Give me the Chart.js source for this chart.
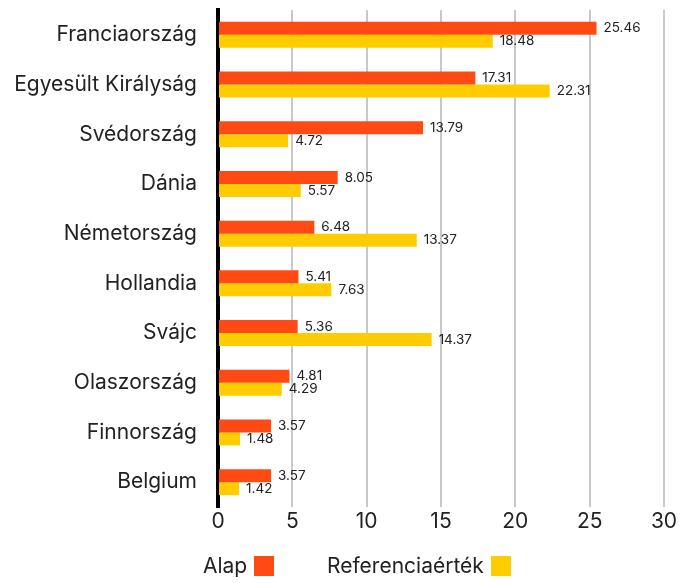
<!DOCTYPE html>
<html>
<head>
<meta charset="utf-8">
<script src="https://cdn.jsdelivr.net/npm/chart.js@4"></script>
<style>
  body { margin: 0; background: #fff; }
  #wrap { position: relative; width: 691px; height: 583px; }
  #legend {
    position: absolute; top: 553px; left: 0; width: 691px;
    font-family: Inter, sans-serif; font-size: 21px; color: #222;
  }
  .item { position: absolute; display: flex; align-items: center; }
  .box { display: inline-block; width: 20px; height: 20px; margin-left: 7px; }
</style>
</head>
<body>
<div id="wrap">
  <canvas id="myBarChart" width="691" height="583"></canvas>
  <div id="legend">
    <span class="item" style="left:203px">Alap<span class="box" style="background:#FF4A14"></span></span>
    <span class="item" style="left:327px">Referenciaérték<span class="box" style="background:#FFCC00"></span></span>
  </div>
</div>
<script>
// Categories and values
const countries = [
  "Franciaország",
  "Egyesült Királyság",
  "Svédország",
  "Dánia",
  "Németország",
  "Hollandia",
  "Svájc",
  "Olaszország",
  "Finnország",
  "Belgium",
];
const alapValues = [25.46, 17.31, 13.79, 8.05, 6.48, 5.41, 5.36, 4.81, 3.57, 3.57];
const referenciaValues = [18.48, 22.31, 4.72, 5.57, 13.37, 7.63, 14.37, 4.29, 1.48, 1.42];
const xTicks = [0, 5, 10, 15, 20, 25, 30];

// value labels at the end of each bar
const valueLabels = {
  id: "valueLabels",
  afterDatasetsDraw(chart) {
    const ctx = chart.ctx;
    ctx.save();
    ctx.font = "13.5px Inter, sans-serif";
    ctx.fillStyle = "#222";
    ctx.textAlign = "left";
    ctx.textBaseline = "middle";
    chart.data.datasets.forEach((ds, i) => {
      chart.getDatasetMeta(i).data.forEach((bar, j) => {
        ctx.fillText(ds.data[j].toFixed(2), bar.x + 7, bar.y);
      });
    });
    ctx.restore();
  },
};

const chartData = {
  labels: countries,
  datasets: [
    {
      label: "Alap",
      data: alapValues,
      backgroundColor: "#FF4A14",
      categoryPercentage: 0.523,
      barPercentage: 1,
    },
    {
      label: "Referenciaérték",
      data: referenciaValues,
      backgroundColor: "#FFCC00",
      categoryPercentage: 0.523,
      barPercentage: 1,
    },
  ],
};

const config = {
  type: "bar",
  data: chartData,
  options: {
    indexAxis: "y",
    responsive: false,
    animation: false,
    layout: {
      padding: { top: 10, right: 27, bottom: 0, left: 0 },
    },
    plugins: {
      legend: { display: false },
      tooltip: { enabled: false },
    },
    scales: {
      x: {
        min: 0,
        max: 30,
        afterBuildTicks: (scale) => {
          scale.ticks = xTicks.map((v) => ({ value: v }));
        },
        afterFit: (scale) => {
          scale.height = 76;
          scale.paddingLeft = 0;
          scale.paddingRight = 0;
        },
        ticks: {
          padding: 2,
          color: "#222",
          font: { family: "Inter, sans-serif", size: 21 },
        },
        grid: {
          color: "#c8c8c8",
          lineWidth: 2,
          drawTicks: false,
        },
        border: { display: false },
      },
      y: {
        afterFit: (scale) => {
          scale.width = 218;
          scale.paddingTop = 0;
          scale.paddingBottom = 0;
        },
        ticks: {
          padding: 21,
          color: "#222",
          font: { family: "Inter, sans-serif", size: 21 },
        },
        grid: { display: false, drawTicks: false },
        border: { display: true, color: "#000", width: 4 },
      },
    },
  },
  plugins: [valueLabels],
};

const myChart = new Chart(document.getElementById("myBarChart"), config);
</script>
</body>
</html>
